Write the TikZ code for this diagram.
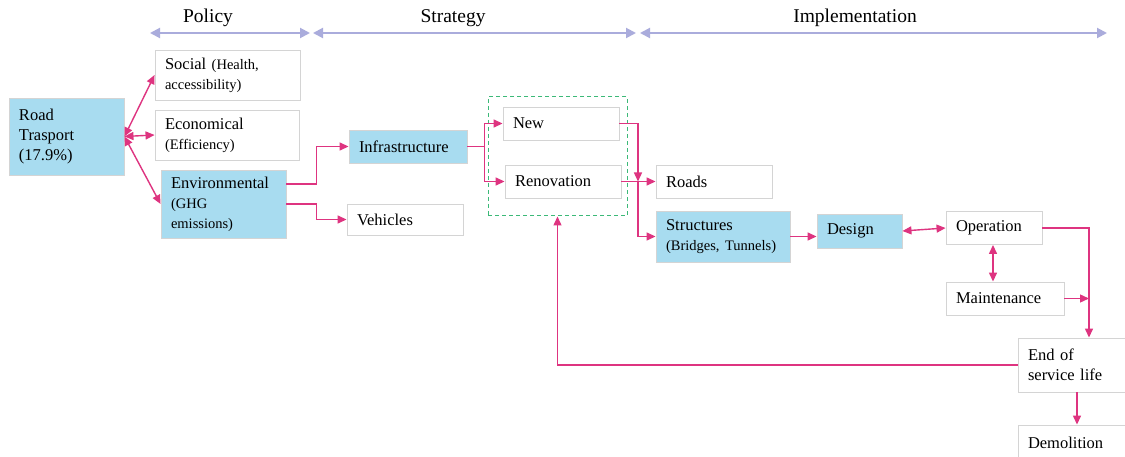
\documentclass[tikz,border=0pt]{standalone}
\usepackage{fontspec}
\setmainfont{Liberation Serif}
\usetikzlibrary{arrows.meta}
\definecolor{boxblue}{RGB}{168,220,240}
\definecolor{pk}{RGB}{222,52,128}
\definecolor{lav}{RGB}{170,172,220}
\definecolor{bord}{RGB}{212,212,212}
\definecolor{dgreen}{RGB}{60,185,120}
\newcommand\smtxt{\fontsize{14.5}{18}\selectfont}
\tikzset{
 bx/.style={draw=bord, line width=0.9pt, align=left, inner xsep=10pt, inner ysep=2pt,
   font=\fontsize{16.5}{20}\selectfont, anchor=center},
 wb/.style={bx, fill=white},
 bb/.style={bx, fill=boxblue},
 con/.style={draw=pk, line width=1.4pt, -{Triangle[length=9pt,width=8pt]}},
 dcon/.style={draw=pk, line width=1.4pt, {Triangle[length=9pt,width=8pt]}-{Triangle[length=9pt,width=8pt]}},
 hdr/.style={draw=lav, line width=2pt, {Triangle[length=10pt,width=10pt]}-{Triangle[length=10pt,width=10pt]}},
 ht/.style={font=\fontsize{19.5}{23}\selectfont, inner sep=0pt},
 grpbox/.style={draw=dgreen, line width=1pt, dash pattern=on 4pt off 3pt, inner sep=0pt}
}
\begin{document}
\begin{tikzpicture}[x=1pt,y=-1pt]
\useasboundingbox[fill=white] (0,0) rectangle (1125,457);
% header
\coordinate (p1) at (150,33); \coordinate (p2) at (310,33);
\coordinate (s1) at (313,33); \coordinate (s2) at (636,33);
\coordinate (i1) at (640,33); \coordinate (i2) at (1107,33);
\draw[hdr] (p1) -- (p2);
\draw[hdr] (s1) -- (s2);
\draw[hdr] (i1) -- (i2);
\node[ht] (hp) at (208,18) {Policy};
\node[ht] (hs) at (453,18) {Strategy};
\node[ht] (hi) at (855,18) {Implementation};
% group box
\node[grpbox, minimum width=139pt, minimum height=119pt] (grp) at (557.5,156.5) {};
% nodes
\node[bb, text width=95pt, minimum height=77pt] (rt) at (66.5,136.5) {Road\\Trasport\\(17.9\%)};
\node[wb, text width=125pt, minimum height=50pt] (soc) at (227.5,75) {Social {\smtxt(Health,}\\{\smtxt accessibility)}};
\node[wb, text width=124pt, minimum height=50pt] (eco) at (227,135) {Economical\\{\smtxt (Efficiency)}};
\node[bb, text width=105pt, minimum height=68pt] (env) at (223.5,204) {Environmental\\{\smtxt (GHG}\\{\smtxt emissions)}};
\node[bb, text width=98pt, minimum height=33pt] (inf) at (408,146.5) {Infrastructure};
\node[wb, text width=96pt, minimum height=31pt] (veh) at (405,219.5) {Vehicles};
\node[wb, text width=96pt, minimum height=33pt] (new) at (561,123.5) {New};
\node[wb, text width=96pt, minimum height=33pt] (ren) at (563,181.5) {Renovation};
\node[wb, text width=96pt, minimum height=33pt] (roads) at (714,181.5) {Roads};
\node[bb, text width=114pt, minimum height=51pt] (str) at (723,236.5) {Structures\\{\smtxt (Bridges,~Tunnels)}};
\node[bb, text width=65pt, minimum height=34pt] (des) at (859.5,231) {Design};
\node[wb, text width=76pt, minimum height=33pt] (op) at (994,228) {Operation};
\node[wb, text width=98pt, minimum height=33pt] (mai) at (1005,298.5) {Maintenance};
\node[wb, text width=90pt, minimum height=54pt] (eos) at (1073,365) {End of\\service life};
\node[wb, text width=90pt, minimum height=36pt] (dem) at (1073,443) {Demolition};
% connectors
\draw[dcon] (rt.east) -- (soc.west);
\draw[dcon] (rt.east) -- (eco.west);
\draw[dcon] (rt.east) -- (env.west);
\draw[con] ([yshift=20pt]env.east) -- ++(30,0) |- (inf.west);
\draw[con] (env.east) -- ++(30,0) |- (veh.west);
\draw[con] (inf.east) -- ++(17,0) |- (new.west);
\draw[con] (inf.east) -- ++(17,0) |- (ren.west);
\coordinate (jn) at (638,181.5);
\draw[con] (new.east) -| (jn);
\draw[con] (ren.east) -- (roads.west);
\draw[con] (jn) |- (str.west);
\draw[con] (str.east) -- (str.east -| des.west);
\draw[dcon] (des.east) -- (op.west);
\draw[dcon] (op.south -| 993,0) -- (mai.north -| 993,0);
\draw[con] (op.east) -| ([xshift=16pt]eos.north);
\coordinate (vl) at (1089,298.5);
\draw[con] (mai.east) -- (vl);
\draw[con] (eos.west) -| (grp.south);
\draw[con] ([xshift=4pt]eos.south) -- ([xshift=4pt]eos.south |- dem.north);
\end{tikzpicture}
\end{document}
